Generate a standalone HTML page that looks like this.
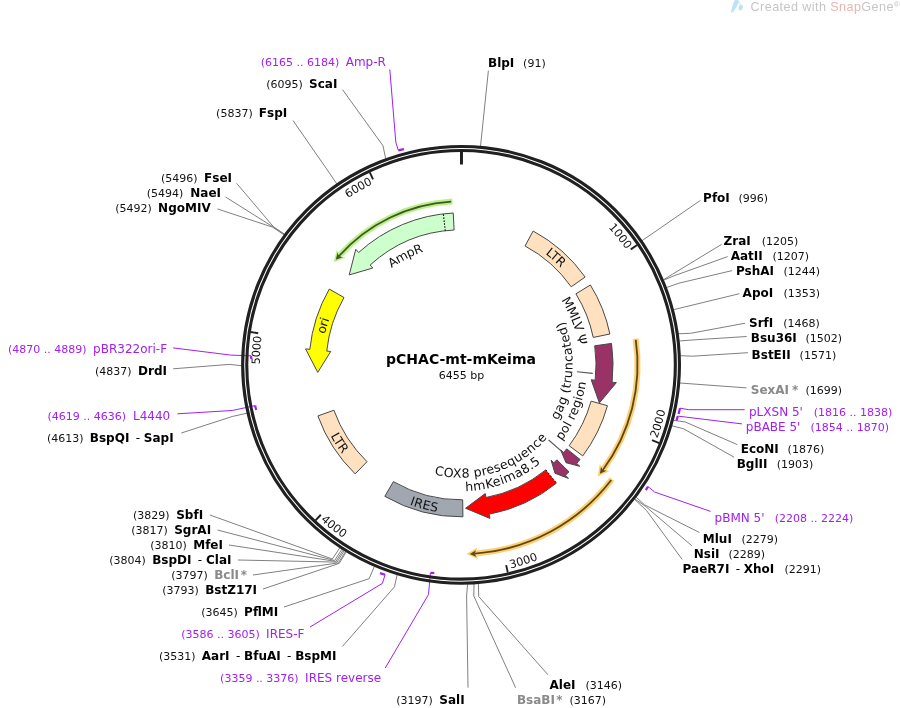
<!DOCTYPE html>
<html><head><meta charset="utf-8"><title>pCHAC-mt-mKeima</title>
<style>html,body{margin:0;padding:0;background:#fff}svg{display:block}</style></head>
<body>
<svg width="901" height="708" viewBox="0 0 901 708" font-family="'DejaVu Sans','Liberation Sans',sans-serif">
<defs><path id="t1" d="M514.37 166.47 A205.40 205.40 0 0 1 629.40 247.15"/><path id="t2" d="M653.29 437.17 A205.40 205.40 0 0 0 654.81 296.67"/><path id="t3" d="M509.38 564.46 A205.40 205.40 0 0 0 626.39 486.69"/><path id="t4" d="M323.18 517.08 A205.40 205.40 0 0 0 453.30 570.08"/><path id="t5" d="M286.62 473.28 A205.40 205.40 0 0 1 257.71 335.79"/><path id="t6" d="M273.26 281.62 A205.40 205.40 0 0 1 370.68 180.38"/><path id="p1" d="M415.41 228.41 A143.85 143.85 0 0 1 602.01 393.51"/><path id="p2" d="M479.97 242.64 A123.65 123.65 0 0 1 557.42 442.31"/><path id="p3" d="M508.79 460.59 A107.00 107.00 0 0 0 520.11 275.60"/><path id="p4" d="M476.92 485.34 A121.55 121.55 0 0 0 557.48 290.84"/><path id="p5" d="M388.58 445.31 A108.30 108.30 0 0 0 566.98 387.35"/><path id="p6" d="M383.74 458.95 A121.80 121.80 0 0 0 581.21 384.72"/><path id="p7" d="M321.77 402.93 A144.40 144.40 0 0 0 563.69 466.40"/><path id="p8" d="M333.03 298.90 A144.00 144.00 0 0 0 467.96 508.66"/><path id="p9" d="M357.75 464.94 A143.85 143.85 0 0 1 426.01 225.31"/><path id="p10" d="M337.57 358.36 A123.65 123.65 0 0 1 528.39 261.13"/></defs>
<rect width="901" height="708" fill="#fff"/>
<path d="M488.4 70.6 L480.5 146.2" fill="none" stroke="#808080" stroke-width="1.0"/>
<path d="M700.4 200.4 L642.0 240.7" fill="none" stroke="#808080" stroke-width="1.0"/>
<path d="M721.5 244.4 L672.5 274.2 L663.4 279.8" fill="none" stroke="#808080" stroke-width="1.0"/>
<path d="M727.7 256.6 L674.0 275.8 L663.6 280.2" fill="none" stroke="#808080" stroke-width="1.0"/>
<path d="M732.1 270.6 L678.8 283.2 L666.5 287.5" fill="none" stroke="#808080" stroke-width="1.0"/>
<path d="M739.4 293.7 L673.5 309.7" fill="none" stroke="#808080" stroke-width="1.0"/>
<path d="M745.2 323.2 L690.6 333.3 L678.3 333.8" fill="none" stroke="#808080" stroke-width="1.0"/>
<path d="M746.6 336.5 L692.0 340.0 L679.3 341.0" fill="none" stroke="#808080" stroke-width="1.0"/>
<path d="M747.9 352.7 L692.5 356.2 L680.4 355.7" fill="none" stroke="#808080" stroke-width="1.0"/>
<path d="M746.6 387.9 L679.8 383.0" fill="none" stroke="#808080" stroke-width="1.0"/>
<path d="M737.3 444.6 L685.3 422.0 L673.4 420.3" fill="none" stroke="#808080" stroke-width="1.0"/>
<path d="M734.1 457.2 L683.4 428.7 L671.9 425.8" fill="none" stroke="#808080" stroke-width="1.0"/>
<path d="M699.4 532.5 L644.5 504.8 L636.1 497.2" fill="none" stroke="#808080" stroke-width="1.0"/>
<path d="M691.9 545.8 L645.8 506.6 L634.8 498.9" fill="none" stroke="#808080" stroke-width="1.0"/>
<path d="M682.1 559.4 L646.6 510.6 L634.6 499.3" fill="none" stroke="#808080" stroke-width="1.0"/>
<path d="M548.0 674.8 L478.7 596.5 L478.4 583.6" fill="none" stroke="#808080" stroke-width="1.0"/>
<path d="M515.6 687.7 L473.8 596.0 L474.0 583.9" fill="none" stroke="#808080" stroke-width="1.0"/>
<path d="M468.0 687.7 L466.6 596.0 L467.6 584.2" fill="none" stroke="#808080" stroke-width="1.0"/>
<path d="M342.4 646.5 L394.5 586.8 L397.1 574.8" fill="none" stroke="#808080" stroke-width="1.0"/>
<path d="M284.0 607.0 L369.1 578.7 L374.3 566.5" fill="none" stroke="#808080" stroke-width="1.0"/>
<path d="M209.9 515.0 L332.3 559.0 L339.8 547.8" fill="none" stroke="#808080" stroke-width="1.0"/>
<path d="M217.5 530.0 L334.6 560.5 L341.9 549.2" fill="none" stroke="#808080" stroke-width="1.0"/>
<path d="M229.0 545.0 L335.9 561.4 L343.2 550.0" fill="none" stroke="#808080" stroke-width="1.0"/>
<path d="M238.0 560.0 L337.1 562.1 L344.2 550.7" fill="none" stroke="#808080" stroke-width="1.0"/>
<path d="M253.0 575.0 L338.4 562.9 L345.5 551.5" fill="none" stroke="#808080" stroke-width="1.0"/>
<path d="M263.0 589.0 L339.2 563.4 L346.2 551.9" fill="none" stroke="#808080" stroke-width="1.0"/>
<path d="M173.2 368.8 L229.2 364.4 L241.6 365.7" fill="none" stroke="#808080" stroke-width="1.0"/>
<path d="M181.3 433.0 L232.2 416.5 L246.9 413.2" fill="none" stroke="#808080" stroke-width="1.0"/>
<path d="M236.6 183.3 L273.3 226.6 L284.6 234.2" fill="none" stroke="#808080" stroke-width="1.0"/>
<path d="M225.6 197.0 L273.0 226.9 L284.4 234.6" fill="none" stroke="#808080" stroke-width="1.0"/>
<path d="M217.3 208.9 L272.7 227.2 L284.1 234.9" fill="none" stroke="#808080" stroke-width="1.0"/>
<path d="M293.0 120.5 L329.2 172.7 L336.8 183.9" fill="none" stroke="#808080" stroke-width="1.0"/>
<path d="M342.6 89.7 L383.0 145.8 L385.7 158.7" fill="none" stroke="#808080" stroke-width="1.0"/>
<path d="M389.8 69.5 L395.8 142.1 L398.3 150.3" fill="none" stroke="#A020F0" stroke-width="1.0"/>
<path d="M398.3 150.3 L404.0 149.2" fill="none" stroke="#A020F0" stroke-width="2.2"/>
<path d="M744.7 409.7 L688.8 409.7 L680.0 408.2" fill="none" stroke="#A020F0" stroke-width="1.0"/>
<path d="M680.0 408.2 L678.6 414.0" fill="none" stroke="#A020F0" stroke-width="2.2"/>
<path d="M742.0 423.9 L686.6 417.2 L677.8 416.1" fill="none" stroke="#A020F0" stroke-width="1.0"/>
<path d="M677.8 416.1 L676.5 420.6" fill="none" stroke="#A020F0" stroke-width="2.2"/>
<path d="M710.6 511.4 L654.6 492.0 L648.0 486.6" fill="none" stroke="#A020F0" stroke-width="1.0"/>
<path d="M648.0 486.6 L645.8 490.1" fill="none" stroke="#A020F0" stroke-width="2.2"/>
<path d="M385.2 668.1 L428.5 594.5 L430.4 572.9" fill="none" stroke="#A020F0" stroke-width="1.0"/>
<path d="M430.4 572.9 L434.3 572.9" fill="none" stroke="#A020F0" stroke-width="2.2"/>
<path d="M310.0 627.0 L382.4 583.4 L385.1 574.7" fill="none" stroke="#A020F0" stroke-width="1.0"/>
<path d="M385.1 574.7 L380.0 573.1" fill="none" stroke="#A020F0" stroke-width="2.2"/>
<path d="M177.4 413.8 L232.2 410.5 L255.1 405.6" fill="none" stroke="#A020F0" stroke-width="1.0"/>
<path d="M255.1 405.6 L256.2 409.9" fill="none" stroke="#A020F0" stroke-width="2.2"/>
<path d="M173.2 347.9 L230.7 355.1 L251.0 355.8" fill="none" stroke="#A020F0" stroke-width="1.0"/>
<path d="M251.0 355.8 L251.4 359.0" fill="none" stroke="#A020F0" stroke-width="2.2"/>
<circle cx="461.05" cy="364.83" r="218.4" fill="none" stroke="#202020" stroke-width="3.1"/>
<circle cx="461.05" cy="364.83" r="214.3" fill="none" stroke="#202020" stroke-width="3.1"/>
<path d="M461.47 151.8 L461.47 164.5" stroke="#202020" stroke-width="3"/>
<path d="M637.16 245.02 L630.79 249.35" stroke="#202020" stroke-width="1.9"/>
<text font-size="11.3" fill="#111" text-anchor="end" dy="4.1"><textPath href="#t1" startOffset="100%">1000</textPath></text>
<path d="M659.17 443.04 L652.01 440.21" stroke="#202020" stroke-width="1.9"/>
<text font-size="11.3" fill="#111" text-anchor="start" dy="4.1"><textPath href="#t2" startOffset="0%">2000</textPath></text>
<path d="M507.83 572.63 L506.14 565.12" stroke="#202020" stroke-width="1.9"/>
<text font-size="11.3" fill="#111" text-anchor="start" dy="4.1"><textPath href="#t3" startOffset="0%">3000</textPath></text>
<path d="M315.56 520.40 L320.82 514.77" stroke="#202020" stroke-width="1.9"/>
<text font-size="11.3" fill="#111" text-anchor="start" dy="4.1"><textPath href="#t4" startOffset="0%">4000</textPath></text>
<path d="M250.59 332.05 L258.20 333.23" stroke="#202020" stroke-width="1.9"/>
<text font-size="11.3" fill="#111" text-anchor="end" dy="4.1"><textPath href="#t5" startOffset="100%">5000</textPath></text>
<path d="M369.77 172.38 L373.07 179.34" stroke="#202020" stroke-width="1.9"/>
<text font-size="11.3" fill="#111" text-anchor="end" dy="4.1"><textPath href="#t6" startOffset="100%">6000</textPath></text>
<path d="M525.05 245.97 L533.11 231.00 A152.00 152.00 0 0 1 585.10 277.00 L571.23 286.82 A135.00 135.00 0 0 0 525.05 245.97 Z" fill="#FFE0BF" stroke="#484848" stroke-width="1" stroke-linejoin="miter"/>
<path d="M575.91 293.89 L590.37 284.96 A152.00 152.00 0 0 1 609.89 334.01 L593.25 337.45 A135.00 135.00 0 0 0 575.91 293.89 Z" fill="#FFE0BF" stroke="#484848" stroke-width="1" stroke-linejoin="miter"/>
<path d="M594.70 345.81 L611.53 343.41 A152.00 152.00 0 0 1 612.06 382.17 L616.33 382.66 L599.40 402.94 L591.19 379.77 L595.17 380.23 A135.00 135.00 0 0 0 594.70 345.81 Z" fill="#993366" stroke="#484848" stroke-width="1" stroke-linejoin="miter"/>
<path d="M591.08 401.13 L607.45 405.71 A152.00 152.00 0 0 1 582.76 455.88 L569.15 445.70 A135.00 135.00 0 0 0 591.08 401.13 Z" fill="#FFE0BF" stroke="#484848" stroke-width="1" stroke-linejoin="miter"/>
<path d="M566.70 448.87 L580.01 459.45 A152.00 152.00 0 0 1 576.63 463.55 L579.90 466.34 L566.00 462.70 L560.66 449.91 L563.70 452.51 A135.00 135.00 0 0 0 566.70 448.87 Z" fill="#993366" stroke="#484848" stroke-width="1" stroke-linejoin="miter"/>
<path d="M556.93 459.87 L569.00 471.84 A152.00 152.00 0 0 1 565.49 475.27 L568.44 478.39 L555.01 473.29 L551.06 460.01 L553.81 462.92 A135.00 135.00 0 0 0 556.93 459.87 Z" fill="#993366" stroke="#484848" stroke-width="1" stroke-linejoin="miter"/>
<path d="M545.83 469.89 L556.50 483.12 A152.00 152.00 0 0 1 489.14 514.21 L489.94 518.44 L465.56 508.26 L485.26 493.57 L486.00 497.50 A135.00 135.00 0 0 0 545.83 469.89 Z" fill="#FF0000" stroke="none"/>
<path d="M556.50 483.12 A152.00 152.00 0 0 1 489.14 514.21 L489.94 518.44 L465.56 508.26 L485.26 493.57 L486.00 497.50 A135.00 135.00 0 0 0 545.83 469.89" fill="none" stroke="#484848" stroke-width="1"/>
<path d="M545.83 469.89 L556.50 483.12" stroke="#000" stroke-width="1.0" stroke-dasharray="1.7 1.9" fill="none"/>
<path d="M462.70 499.82 L462.91 516.82 A152.00 152.00 0 0 1 384.82 496.33 L393.35 481.63 A135.00 135.00 0 0 0 462.70 499.82 Z" fill="#A1A7B1" stroke="#484848" stroke-width="1" stroke-linejoin="miter"/>
<path d="M367.02 461.70 L355.18 473.89 A152.00 152.00 0 0 1 317.90 415.94 L333.91 410.23 A135.00 135.00 0 0 0 367.02 461.70 Z" fill="#FFE0BF" stroke="#484848" stroke-width="1" stroke-linejoin="miter"/>
<path d="M344.02 297.53 L329.28 289.06 A152.00 152.00 0 0 0 309.84 349.34 L305.56 348.90 L317.75 372.34 L330.73 351.48 L326.75 351.07 A135.00 135.00 0 0 1 344.02 297.53 Z" fill="#FFFF00" stroke="#484848" stroke-width="1" stroke-linejoin="miter"/>
<path d="M454.10 230.01 L453.23 213.03 A152.00 152.00 0 0 0 358.65 252.50 L355.76 249.32 L349.22 274.91 L372.80 268.02 L370.11 265.06 A135.00 135.00 0 0 1 454.10 230.01 Z" fill="#CCFFCC" stroke="#484848" stroke-width="1" stroke-linejoin="miter"/>
<path d="M445.30 230.75 L443.32 213.87" stroke="#000" stroke-width="1.1" stroke-dasharray="1.5 1.5" fill="none"/>
<path d="M452.41 201.56 A163.50 163.50 0 0 0 340.08 254.84" fill="none" stroke="#B6F384" stroke-width="6.0"/>
<path d="M333.64 262.36 L336.75 249.67 L339.35 255.65 L345.48 257.76 Z" fill="#B6F384" stroke="none"/>
<path d="M451.21 201.63 A163.50 163.50 0 0 0 339.01 256.03" fill="none" stroke="#44532A" stroke-width="1.8"/>
<path d="M335.80 259.73 L337.56 252.55 L339.01 256.03 L342.59 257.13 Z" fill="#44532A" stroke="none"/>
<path d="M635.62 338.77 A176.50 176.50 0 0 1 603.77 468.67" fill="none" stroke="#FFCE70" stroke-width="6.0"/>
<path d="M597.72 476.51 L609.51 470.89 L603.13 469.55 L599.82 463.97 Z" fill="#FFCE70" stroke="none"/>
<path d="M635.79 339.96 A176.50 176.50 0 0 1 602.82 469.96" fill="none" stroke="#5C4719" stroke-width="1.8"/>
<path d="M599.85 473.86 L606.52 470.67 L602.82 469.96 L601.02 466.67 Z" fill="#5C4719" stroke="none"/>
<path d="M611.96 479.11 A189.30 189.30 0 0 1 476.29 553.52" fill="none" stroke="#FFCE70" stroke-width="6.0"/>
<path d="M466.40 554.05 L478.34 559.31 L475.20 553.60 L477.29 547.46 Z" fill="#FFCE70" stroke="none"/>
<path d="M611.23 480.07 A189.30 189.30 0 0 1 474.69 553.64" fill="none" stroke="#5C4719" stroke-width="1.8"/>
<path d="M469.80 553.93 L476.56 556.90 L474.69 553.64 L476.02 550.13 Z" fill="#5C4719" stroke="none"/>
<text font-size="12.4" fill="#111" text-anchor="middle" dy="4.52"><textPath href="#p1" startOffset="50%">LTR</textPath></text>
<text font-size="12.6" fill="#111" text-anchor="middle" dy="4.59"><textPath href="#p2" startOffset="50%">MMLV Ψ</textPath></text>
<text font-size="12.6" fill="#111" text-anchor="middle" dy="4.59"><textPath href="#p3" startOffset="50%">gag (truncated)</textPath></text>
<text font-size="12.4" fill="#111" text-anchor="middle" dy="4.52"><textPath href="#p4" startOffset="50%">pol region</textPath></text>
<text font-size="12.6" fill="#111" text-anchor="middle" dy="4.59"><textPath href="#p5" startOffset="50%">COX8 presequence</textPath></text>
<text font-size="12.6" fill="#111" text-anchor="middle" dy="4.59"><textPath href="#p6" startOffset="50%">hmKeima8.5</textPath></text>
<text font-size="12.4" fill="#111" text-anchor="middle" dy="4.52"><textPath href="#p7" startOffset="50%">IRES</textPath></text>
<text font-size="12.4" fill="#111" text-anchor="middle" dy="4.52"><textPath href="#p8" startOffset="50%">LTR</textPath></text>
<text font-size="12.4" fill="#111" text-anchor="middle" dy="4.52"><textPath href="#p9" startOffset="50%">ori</textPath></text>
<text font-size="12.4" fill="#111" text-anchor="middle" dy="4.52"><textPath href="#p10" startOffset="50%">AmpR</textPath></text>
<path d="M577.0 371.8 L592.8 373.4" fill="none" stroke="#555" stroke-width="1.1"/>
<path d="M548.6 440.0 L562.6 452.2" fill="none" stroke="#555" stroke-width="1.1"/>
<text x="461" y="363.6" font-size="14" font-weight="bold" text-anchor="middle" fill="#000">pCHAC-mt-mKeima</text>
<text x="461.6" y="378.8" font-size="11" text-anchor="middle" fill="#111">6455 bp</text>
<text x="488.0" y="67.1" font-size="12" font-weight="bold" fill="#000" xml:space="preserve">BlpI</text>
<text x="523.1" y="67.1" font-size="11" fill="#111" xml:space="preserve">(91)</text>
<text x="703.1" y="202.0" font-size="12" font-weight="bold" fill="#000" xml:space="preserve">PfoI</text>
<text x="738.4" y="202.0" font-size="11" fill="#111" xml:space="preserve">(996)</text>
<text x="723.6" y="245.0" font-size="12" font-weight="bold" fill="#000" xml:space="preserve">ZraI</text>
<text x="761.7" y="245.0" font-size="11" fill="#111" xml:space="preserve">(1205)</text>
<text x="730.7" y="259.9" font-size="12" font-weight="bold" fill="#000" xml:space="preserve">AatII</text>
<text x="772.4" y="259.9" font-size="11" fill="#111" xml:space="preserve">(1207)</text>
<text x="736.0" y="275.0" font-size="12" font-weight="bold" fill="#000" xml:space="preserve">PshAI</text>
<text x="783.5" y="275.0" font-size="11" fill="#111" xml:space="preserve">(1244)</text>
<text x="742.6" y="297.0" font-size="12" font-weight="bold" fill="#000" xml:space="preserve">ApoI</text>
<text x="783.5" y="297.0" font-size="11" fill="#111" xml:space="preserve">(1353)</text>
<text x="749.0" y="326.9" font-size="12" font-weight="bold" fill="#000" xml:space="preserve">SrfI</text>
<text x="783.3" y="326.9" font-size="11" fill="#111" xml:space="preserve">(1468)</text>
<text x="750.8" y="342.1" font-size="12" font-weight="bold" fill="#000" xml:space="preserve">Bsu36I</text>
<text x="805.4" y="342.1" font-size="11" fill="#111" xml:space="preserve">(1502)</text>
<text x="751.6" y="358.9" font-size="12" font-weight="bold" fill="#000" xml:space="preserve">BstEII</text>
<text x="799.6" y="358.9" font-size="11" fill="#111" xml:space="preserve">(1571)</text>
<text x="750.8" y="394.0" font-size="12" font-weight="bold" fill="#8A8A8A" xml:space="preserve">SexAI<tspan dx="2.9">*</tspan></text>
<text x="805.4" y="394.0" font-size="11" fill="#111" xml:space="preserve">(1699)</text>
<text x="749.0" y="416.1" font-size="12"  fill="#A020F0" xml:space="preserve">pLXSN 5'</text>
<text x="813.7" y="416.1" font-size="11" fill="#A020F0" xml:space="preserve">(1816 .. 1838)</text>
<text x="745.8" y="431.1" font-size="12"  fill="#A020F0" xml:space="preserve">pBABE 5'</text>
<text x="810.5" y="431.1" font-size="11" fill="#A020F0" xml:space="preserve">(1854 .. 1870)</text>
<text x="740.7" y="453.2" font-size="12" font-weight="bold" fill="#000" xml:space="preserve">EcoNI</text>
<text x="787.6" y="453.2" font-size="11" fill="#111" xml:space="preserve">(1876)</text>
<text x="736.7" y="468.1" font-size="12" font-weight="bold" fill="#000" xml:space="preserve">BglII</text>
<text x="776.7" y="468.1" font-size="11" fill="#111" xml:space="preserve">(1903)</text>
<text x="714.6" y="521.5" font-size="12"  fill="#A020F0" xml:space="preserve">pBMN 5'</text>
<text x="774.8" y="521.5" font-size="11" fill="#A020F0" xml:space="preserve">(2208 .. 2224)</text>
<text x="702.8" y="542.8" font-size="12" font-weight="bold" fill="#000" xml:space="preserve">MluI</text>
<text x="741.5" y="542.8" font-size="11" fill="#111" xml:space="preserve">(2279)</text>
<text x="693.8" y="558.0" font-size="12" font-weight="bold" fill="#000" xml:space="preserve">NsiI</text>
<text x="728.4" y="558.0" font-size="11" fill="#111" xml:space="preserve">(2289)</text>
<text x="682.6" y="573.2" font-size="12" font-weight="bold" fill="#000" xml:space="preserve">PaeR7I<tspan font-weight="normal" dx="2.5"> - </tspan>XhoI</text>
<text x="784.4" y="573.2" font-size="11" fill="#111" xml:space="preserve">(2291)</text>
<text x="549.5" y="688.9" font-size="12" font-weight="bold" fill="#000" xml:space="preserve">AleI</text>
<text x="585.5" y="688.9" font-size="11" fill="#111" xml:space="preserve">(3146)</text>
<text x="516.9" y="704.2" font-size="12" font-weight="bold" fill="#8A8A8A" xml:space="preserve">BsaBI<tspan dx="1.3">*</tspan></text>
<text x="569.4" y="704.2" font-size="11" fill="#111" xml:space="preserve">(3167)</text>
<text x="439.3" y="704.2" font-size="12" font-weight="bold" fill="#000" xml:space="preserve">SalI</text>
<text x="396.3" y="704.2" font-size="11" fill="#111" xml:space="preserve">(3197)</text>
<text x="305.1" y="681.5" font-size="12"  fill="#A020F0" xml:space="preserve">IRES reverse</text>
<text x="220.1" y="681.5" font-size="11" fill="#A020F0" xml:space="preserve">(3359 .. 3376)</text>
<text x="201.8" y="659.5" font-size="12" font-weight="bold" fill="#000" xml:space="preserve">AarI<tspan font-weight="normal" dx="2.5"> - </tspan>BfuAI<tspan font-weight="normal" dx="2.5"> - </tspan>BspMI</text>
<text x="158.9" y="659.5" font-size="11" fill="#111" xml:space="preserve">(3531)</text>
<text x="266.1" y="637.5" font-size="12"  fill="#A020F0" xml:space="preserve">IRES-F</text>
<text x="181.2" y="637.5" font-size="11" fill="#A020F0" xml:space="preserve">(3586 .. 3605)</text>
<text x="244.1" y="615.6" font-size="12" font-weight="bold" fill="#000" xml:space="preserve">PflMI</text>
<text x="201.2" y="615.6" font-size="11" fill="#111" xml:space="preserve">(3645)</text>
<text x="205.2" y="593.6" font-size="12" font-weight="bold" fill="#000" xml:space="preserve">BstZ17I</text>
<text x="162.2" y="593.6" font-size="11" fill="#111" xml:space="preserve">(3793)</text>
<text x="214.2" y="578.6" font-size="12" font-weight="bold" fill="#8A8A8A" xml:space="preserve">BclI<tspan dx="1.7">*</tspan></text>
<text x="171.2" y="578.6" font-size="11" fill="#111" xml:space="preserve">(3797)</text>
<text x="152.2" y="563.6" font-size="12" font-weight="bold" fill="#000" xml:space="preserve">BspDI<tspan font-weight="normal" dx="2.5"> - </tspan>ClaI</text>
<text x="109.3" y="563.6" font-size="11" fill="#111" xml:space="preserve">(3804)</text>
<text x="193.2" y="548.6" font-size="12" font-weight="bold" fill="#000" xml:space="preserve">MfeI</text>
<text x="150.2" y="548.6" font-size="11" fill="#111" xml:space="preserve">(3810)</text>
<text x="174.2" y="533.6" font-size="12" font-weight="bold" fill="#000" xml:space="preserve">SgrAI</text>
<text x="131.2" y="533.6" font-size="11" fill="#111" xml:space="preserve">(3817)</text>
<text x="176.2" y="518.6" font-size="12" font-weight="bold" fill="#000" xml:space="preserve">SbfI</text>
<text x="132.9" y="518.6" font-size="11" fill="#111" xml:space="preserve">(3829)</text>
<text x="89.8" y="442.0" font-size="12" font-weight="bold" fill="#000" xml:space="preserve">BspQI<tspan font-weight="normal" dx="2.5"> - </tspan>SapI</text>
<text x="46.9" y="442.0" font-size="11" fill="#111" xml:space="preserve">(4613)</text>
<text x="133.0" y="419.8" font-size="12"  fill="#A020F0" xml:space="preserve">L4440</text>
<text x="47.5" y="419.8" font-size="11" fill="#A020F0" xml:space="preserve">(4619 .. 4636)</text>
<text x="138.0" y="375.1" font-size="12" font-weight="bold" fill="#000" xml:space="preserve">DrdI</text>
<text x="94.9" y="375.1" font-size="11" fill="#111" xml:space="preserve">(4837)</text>
<text x="93.1" y="353.0" font-size="12"  fill="#A020F0" xml:space="preserve">pBR322ori-F</text>
<text x="8.0" y="353.0" font-size="11" fill="#A020F0" xml:space="preserve">(4870 .. 4889)</text>
<text x="158.1" y="212.0" font-size="12" font-weight="bold" fill="#000" xml:space="preserve">NgoMIV</text>
<text x="115.2" y="212.0" font-size="11" fill="#111" xml:space="preserve">(5492)</text>
<text x="190.3" y="197.0" font-size="12" font-weight="bold" fill="#000" xml:space="preserve">NaeI</text>
<text x="146.8" y="197.0" font-size="11" fill="#111" xml:space="preserve">(5494)</text>
<text x="204.1" y="181.9" font-size="12" font-weight="bold" fill="#000" xml:space="preserve">FseI</text>
<text x="161.0" y="181.9" font-size="11" fill="#111" xml:space="preserve">(5496)</text>
<text x="258.8" y="117.1" font-size="12" font-weight="bold" fill="#000" xml:space="preserve">FspI</text>
<text x="216.1" y="117.1" font-size="11" fill="#111" xml:space="preserve">(5837)</text>
<text x="309.1" y="88.3" font-size="12" font-weight="bold" fill="#000" xml:space="preserve">ScaI</text>
<text x="266.2" y="88.3" font-size="11" fill="#111" xml:space="preserve">(6095)</text>
<text x="345.7" y="66.2" font-size="12"  fill="#A020F0" xml:space="preserve">Amp-R</text>
<text x="260.7" y="66.2" font-size="11" fill="#A020F0" xml:space="preserve">(6165 .. 6184)</text>
<path d="M734.9 0 L738.4 0 L738.9 1.8 L736.3 7.6 L733.1 11.9 L731.3 12.9 L731.1 11 L732.5 6 L734 1.5 Z" fill="#BFE3F2"/>
<ellipse cx="740.7" cy="7.6" rx="2.0" ry="2.9" transform="rotate(18 740.7 7.6)" fill="#BFE3F2"/>
<path d="M738.6 1.4 L740.6 5.2" stroke="#BFE3F2" stroke-width="0.8" fill="none"/>
<text x="750.6" y="11" font-size="12.6" letter-spacing="0.42" font-family="'Liberation Sans',sans-serif" fill="#C6C6C6">Created with <tspan fill="#EDB4B4">Snap</tspan>Gene<tspan font-size="8" dy="-3.8">®</tspan></text>
</svg>
</body></html>
